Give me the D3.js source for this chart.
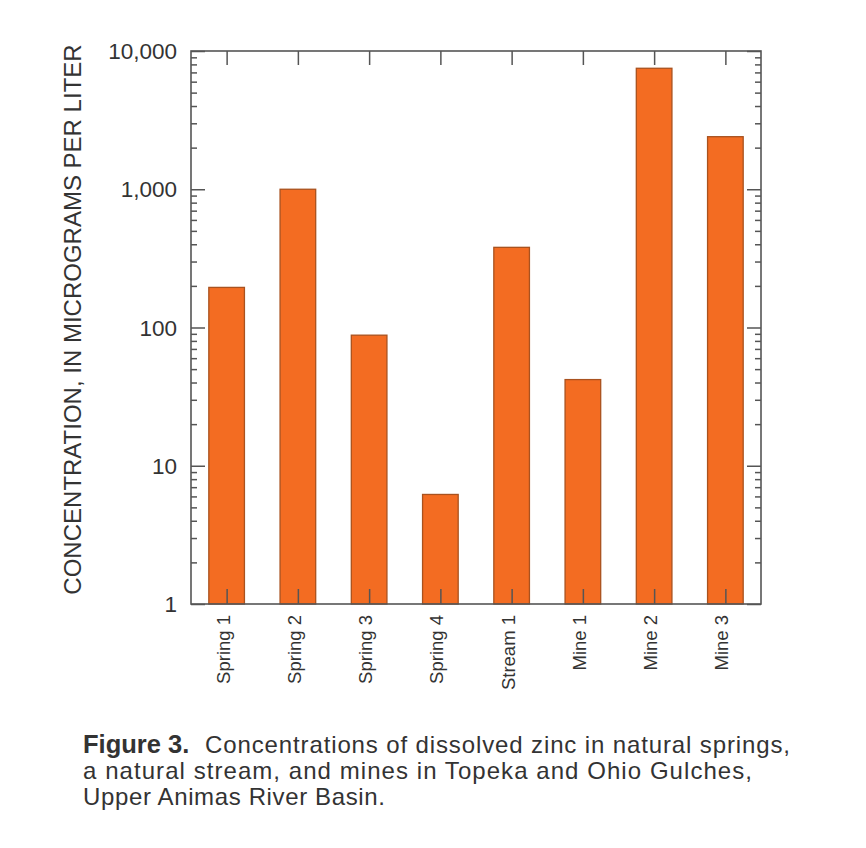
<!DOCTYPE html>
<html><head><meta charset="utf-8">
<script src="https://cdn.jsdelivr.net/npm/d3@7"></script>
<style>body{margin:0;background:#fff}</style>
</head><body>
<svg id="c" width="866" height="848"></svg>
<script>
const categories = ["Spring 1","Spring 2","Spring 3","Spring 4","Stream 1","Mine 1","Mine 2","Mine 3"];
const zinc = [195, 1000, 88, 6.2, 380, 42, 7500, 2400];
const yTicks = [1, 10, 100, 1000, 10000];
const yTickLabels = ["1","10","100","1,000","10,000"];
const yTitle = "CONCENTRATION, IN MICROGRAMS PER LITER";
const captionBold = "Figure 3.";
const captionLines = ["Concentrations of dissolved zinc in natural springs,","a natural stream, and mines in Topeka and Ohio Gulches,","Upper Animas River Basin."];

const svg = d3.select("#c");
const m = {l:191, r:761, t:51, b:604};
const x = d3.scaleBand().domain(categories).range([m.l, m.r]).paddingInner(0.5).paddingOuter(0.25);
const y = d3.scaleLog().domain([1, 10000]).range([m.b, m.t]);
const axisColor = "#555";
const font = "'Liberation Sans', Arial, sans-serif";

// bars
svg.append("g").selectAll("rect").data(zinc).join("rect")
  .attr("x", (d,i)=>x(categories[i]))
  .attr("width", x.bandwidth())
  .attr("y", d=>y(d))
  .attr("height", d=>y(1)-y(d))
  .attr("fill", "#F36C22")
  .attr("stroke", "#A9521F")
  .attr("stroke-width", 1.3);

// minor ticks values
const minor = [];
for (let e=0;e<4;e++) for (let k=2;k<=9;k++) minor.push(k*Math.pow(10,e));

// left axis (ticks inward)
const gl = svg.append("g").attr("transform",`translate(${m.l},0)`);
gl.call(d3.axisRight(y).tickValues(yTicks).tickSize(14).tickFormat(""));
gl.append("g").call(d3.axisRight(y).tickValues(minor).tickSize(6).tickFormat(""));
gl.selectAll(".domain").remove();
// left labels
svg.append("g").selectAll("text").data(yTicks).join("text")
  .attr("x", m.l-14).attr("y", d=>y(d)).attr("dy","0.36em")
  .attr("text-anchor","end").attr("font-family",font).attr("font-size",22.5)
  .attr("fill","#333").text((d,i)=>yTickLabels[i]);

// right axis (ticks inward)
const gr = svg.append("g").attr("transform",`translate(${m.r},0)`);
gr.call(d3.axisLeft(y).tickValues(yTicks).tickSize(14).tickFormat(""));
gr.append("g").call(d3.axisLeft(y).tickValues(minor).tickSize(6).tickFormat(""));
gr.selectAll(".domain").remove();

// top axis ticks
const gt = svg.append("g").attr("transform",`translate(0,${m.t})`);
const xc = d3.scalePoint().domain(categories).range([x(categories[0])+x.bandwidth()/2, x(categories[7])+x.bandwidth()/2]);
gt.call(d3.axisBottom(xc).tickSize(14).tickFormat(""));
gt.selectAll(".domain").remove();

// bottom axis ticks + labels
const gb = svg.append("g").attr("transform",`translate(0,${m.b})`);
gb.call(d3.axisTop(xc).tickSize(15).tickFormat(""));
gb.selectAll(".domain").remove();
svg.append("g").selectAll("text").data(categories).join("text")
  .attr("transform", d=>`translate(${xc(d)+3},${m.b+11}) rotate(-90)`)
  .attr("text-anchor","end").attr("font-family",font).attr("font-size",18.5)
  .attr("fill","#333").text(d=>d);

svg.selectAll(".tick line").attr("stroke",axisColor).attr("stroke-width",1.5);

// frame
svg.append("rect").attr("x",m.l).attr("y",m.t).attr("width",m.r-m.l).attr("height",m.b-m.t)
  .attr("fill","none").attr("stroke",axisColor).attr("stroke-width",1.6);

// y title
svg.append("text").attr("transform",`translate(81,${(m.t+m.b)/2 - 8}) rotate(-90)`)
  .attr("text-anchor","middle").attr("font-family",font).attr("font-size",24)
  .attr("fill","#333").text(yTitle);

// caption
const cap = svg.append("g").attr("font-family",font).attr("font-size",24).attr("fill","#333");
cap.append("text").attr("x",83).attr("y",753).attr("font-weight","bold")
  .attr("font-size",25.5).text(captionBold);
cap.append("text").attr("x",205).attr("y",753)
  .attr("textLength",585).attr("lengthAdjust","spacing").text(captionLines[0]);
cap.append("text").attr("x",83).attr("y",779)
  .attr("textLength",669).attr("lengthAdjust","spacing").text(captionLines[1]);
cap.append("text").attr("x",83).attr("y",805)
  .attr("textLength",302).attr("lengthAdjust","spacing").text(captionLines[2]);
</script>
</body></html>
